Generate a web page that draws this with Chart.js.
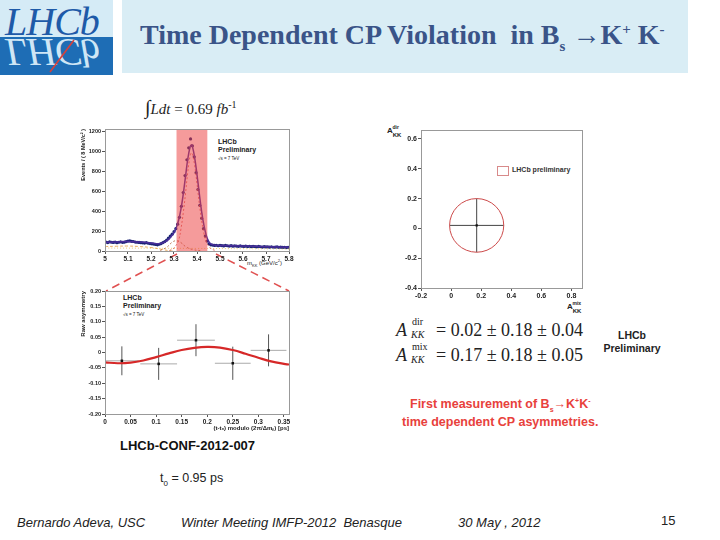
<!DOCTYPE html>
<html>
<head>
<meta charset="utf-8">
<script src="https://cdn.jsdelivr.net/npm/chart.js@4.4.1/dist/chart.umd.min.js"></script>
<style>
  body { margin: 0; width: 720px; height: 540px; background: #fff; position: relative; overflow: hidden;
         font-family: "Liberation Sans", Arial, sans-serif; color: #222; }
  .abs { position: absolute; white-space: nowrap; }
  canvas { position: absolute; }
  .serif { font-family: "Liberation Serif", "Times New Roman", serif; }
  .tiny { font-size: 7px; font-weight: bold; line-height: 8px; }
  .red { color: #e8413c; font-weight: bold; font-size: 12.5px; }
  .foot { font-style: italic; font-size: 13px; top: 515px; }
</style>
</head>
<body>
<!-- header -->
<div class="abs" style="left:0;top:0;width:113px;height:37px;background:#d5ebf6"></div>
<div class="abs" style="left:0;top:37px;width:113px;height:38px;background:#1e6db5"></div>
<div class="abs serif" style="left:5px;top:-2px;font-size:40px;font-style:italic;color:#1e5aa8;letter-spacing:-1px">LHCb</div>
<div class="abs serif" style="left:5px;top:29px;font-size:40px;font-style:italic;color:#cfe6f5;letter-spacing:-1px;transform:scaleY(-1)">LHCb</div>
<svg class="abs" style="left:0;top:0" width="113" height="75"><line x1="50" y1="72" x2="74" y2="40" stroke="#d9403a" stroke-width="1.5"/></svg>
<div class="abs" style="left:122px;top:0;width:566px;height:73px;background:#d9edf5"></div>
<div class="abs serif" style="left:140px;top:19px;font-size:28px;font-weight:bold;color:#3a5488">Time Dependent CP Violation&nbsp; in B<sub style="font-size:15px">s</sub> →K<sup style="font-size:15px">+</sup> K<sup style="font-size:15px">-</sup></div>

<!-- left column texts -->
<div class="abs serif" style="left:145px;top:96px;font-size:15px"><span style="font-size:20px">∫</span><i>Ldt</i> = 0.69 <i>fb</i><sup style="font-size:10px">-1</sup></div>
<div class="abs tiny" style="left:218px;top:138px">LHCb<br>Preliminary<br><span style="font-size:4.5px;font-weight:normal">√s = 7 TeV</span></div>
<div class="abs" style="left:247px;top:258px;font-size:6px">m<sub style="font-size:4px">KK</sub> (GeV/c<sup style="font-size:4px">2</sup>)</div>
<div class="abs tiny" style="left:123px;top:294px">LHCb<br>Preliminary<br><span style="font-size:4.5px;font-weight:normal">√s = 7 TeV</span></div>
<div class="abs" style="left:120px;top:438px;font-size:13px;font-weight:bold;color:#111">LHCb-CONF-2012-007</div>
<svg class="abs" style="left:0;top:0" width="720" height="540">
  <line x1="177" y1="254" x2="106" y2="291" stroke="#e05050" stroke-width="1.5" stroke-dasharray="8,5"/>
  <line x1="216" y1="254" x2="289" y2="291" stroke="#e05050" stroke-width="1.5" stroke-dasharray="8,5"/>
</svg>

<!-- right column texts -->
<div class="abs" style="left:387px;top:126px;font-size:8px;font-weight:bold">A<span style="position:relative;top:4px;font-size:6px">KK</span><span style="position:relative;left:-9px;top:-4px;font-size:5px">dir</span></div>
<div class="abs" style="left:567px;top:302px;font-size:8px;font-weight:bold">A<span style="position:relative;top:4px;font-size:6px">KK</span><span style="position:relative;left:-9px;top:-4px;font-size:5px">mix</span></div>
<div class="abs" style="left:497px;top:166px;width:10px;height:8px;border:1px solid #d88a8a"></div>
<div class="abs" style="left:512px;top:166px;font-size:7px;font-weight:bold;color:#333">LHCb preliminary</div>

<div class="abs serif" style="left:396px;top:320px;font-size:18px;font-style:italic">A</div>
<div class="abs serif" style="left:412px;top:316px;font-size:10px">dir</div>
<div class="abs serif" style="left:411px;top:329px;font-size:10px;font-style:italic">KK</div>
<div class="abs serif" style="left:436px;top:320px;font-size:18px">= 0.02 ± 0.18 ± 0.04</div>
<div class="abs serif" style="left:396px;top:345px;font-size:18px;font-style:italic">A</div>
<div class="abs serif" style="left:412px;top:341px;font-size:10px">mix</div>
<div class="abs serif" style="left:411px;top:354px;font-size:10px;font-style:italic">KK</div>
<div class="abs serif" style="left:436px;top:345px;font-size:18px">= 0.17 ± 0.18 ± 0.05</div>

<div class="abs" style="left:601px;top:329px;width:62px;text-align:center;font-size:10.5px;font-weight:bold;line-height:13px;color:#222">LHCb<br>Preliminary</div>
<div class="abs red" style="left:410px;top:397px">First measurement of B<sub style="font-size:7px">s</sub>→K<sup style="font-size:7px">+</sup>K<sup style="font-size:7px">-</sup></div>
<div class="abs red" style="left:402px;top:415px">time dependent CP asymmetries.</div>

<div class="abs" style="left:160px;top:471px;font-size:12.5px">t<sub style="font-size:8px">0</sub> = 0.95 ps</div>
<div class="abs foot" style="left:17px">Bernardo Adeva, USC</div>
<div class="abs foot" style="left:181px">Winter Meeting IMFP-2012&nbsp; Benasque</div>
<div class="abs foot" style="left:458px">30 May , 2012</div>
<div class="abs" style="left:661px;top:513px;font-size:13px">15</div>

<canvas id="massChart" width="225" height="152" style="left:80px;top:120px"></canvas>
<canvas id="asymChart" width="225" height="149" style="left:80px;top:283px"></canvas>
<canvas id="cpChart" width="215" height="190" style="left:380px;top:120px"></canvas>

<script>
// ---- mass spectrum (8 MeV bins from 5.0 GeV) ----
const massCounts = [
  90, 85, 92, 88, 86, 90, 84, 88, 93, 87, 89, 95, 100,
  102, 98, 96, 90, 88, 86, 84, 82, 80, 84, 78, 75, 72,
  70, 66, 62, 68, 75, 85,
  95, 110, 130, 150, 170, 195, 225, 270, 340, 450, 590, 760, 920, 1040, 1130,
  1060, 950, 790, 620, 460, 330, 225, 150, 100, 72, 62,
  60, 56, 58, 53, 57, 55, 51, 56, 53, 50, 54, 49, 52, 50, 47, 51, 48, 46, 50, 45,
  48, 44, 47, 45, 42, 46, 43, 40, 44, 41, 42, 39, 43, 38, 40, 41, 37, 39, 36, 38, 35, 37
];
const massCenters = massCounts.map((_, i) => 5.004 + i * 0.008);
const fitMass = [5.0, 5.05, 5.1, 5.15, 5.2, 5.22, 5.24, 5.26, 5.28, 5.30, 5.31, 5.32, 5.33, 5.34, 5.35, 5.36,
                 5.37, 5.375, 5.38, 5.39, 5.40, 5.41, 5.42, 5.43, 5.44, 5.45, 5.46, 5.48, 5.5, 5.6, 5.7, 5.8];
const fitTotal = [88, 90, 95, 90, 80, 74, 76, 90, 125, 185, 235, 310, 420, 570, 750, 930,
                  1050, 1070, 1055, 940, 770, 580, 400, 260, 160, 100, 72, 58, 55, 50, 44, 38];
const sigMass = [5.28, 5.30, 5.32, 5.33, 5.34, 5.35, 5.36, 5.37, 5.375, 5.38, 5.39, 5.40, 5.41, 5.42, 5.43, 5.44, 5.46, 5.48];
const sigCounts = [5, 30, 110, 220, 380, 580, 800, 960, 990, 975, 860, 680, 480, 310, 180, 95, 25, 5];
const kpiMass = [5.24, 5.27, 5.29, 5.31, 5.33, 5.35, 5.38, 5.42];
const kpiCounts = [5, 40, 85, 105, 85, 45, 15, 3];
const partMass = [5.0, 5.05, 5.1, 5.15, 5.2, 5.25, 5.28, 5.3];
const partCounts = [45, 48, 50, 45, 35, 15, 3, 0];
const combMass = [5.0, 5.2, 5.4, 5.6, 5.8];
const combCounts = [30, 28, 26, 23, 20];
const signalWindow = [5.31, 5.446];
const massTicksY = [0, 200, 400, 600, 800, 1000, 1200];
const massTicksX = [5.0, 5.1, 5.2, 5.3, 5.4, 5.5, 5.6, 5.7, 5.8];

// ---- raw asymmetry vs decay time modulo oscillation period ----
const asymT = [0.033, 0.105, 0.178, 0.250, 0.320];
const asymTErr = [0.033, 0.036, 0.037, 0.035, 0.035];
const asymVal = [-0.027, -0.037, 0.040, -0.035, 0.007];
const asymErr = [0.047, 0.052, 0.052, 0.054, 0.052];
const asymFitT = [0, 0.025, 0.05, 0.075, 0.1, 0.125, 0.15, 0.175, 0.2, 0.225, 0.25, 0.275, 0.3, 0.325, 0.35, 0.36];
const asymFit = [-0.032, -0.035, -0.033, -0.026, -0.015, -0.003, 0.008, 0.015, 0.018, 0.016, 0.008, -0.004, -0.017, -0.029, -0.037, -0.039];
const asymTicksY = [-0.2, -0.15, -0.1, -0.05, 0, 0.05, 0.1, 0.15, 0.2];
const asymTicksX = [0, 0.05, 0.1, 0.15, 0.2, 0.25, 0.3, 0.35];

// ---- A_dir vs A_mix ----
const aMix = [0.17];
const aMixErr = [0.18];
const aDir = [0.02];
const aDirErr = [0.18];
const cpTicksX = [-0.2, 0, 0.2, 0.4, 0.6, 0.8];
const cpTicksY = [-0.4, -0.2, 0, 0.2, 0.4, 0.6];

Chart.defaults.font.family = "'Liberation Sans', Arial, sans-serif";
Chart.defaults.color = '#222';
Chart.defaults.animation = false;

const fmt = v => (v === 0 ? '0' : String(v));

function axis(ticks, min, max, size, isY, fontSize, format) {
  return {
    type: 'linear', min, max,
    afterBuildTicks: s => { s.ticks = ticks.map(v => ({ value: v })); },
    afterFit: s => {
      if (isY) s.width = size; else s.height = size;
      s.paddingTop = s.paddingBottom = s.paddingLeft = s.paddingRight = 0;
    },
    grid: { drawOnChartArea: false, tickLength: 3, color: '#555' },
    border: { color: '#777' },
    ticks: { autoSkip: false, maxRotation: 0, padding: 1, font: { size: fontSize, weight: 'bold' },
             callback: format || fmt }
  };
}

const frame = {
  id: 'frame',
  afterDraw(chart) {
    const { ctx, chartArea: a } = chart;
    ctx.save();
    ctx.strokeStyle = '#999';
    ctx.lineWidth = 1;
    ctx.strokeRect(a.left + 0.5, a.top + 0.5, a.right - a.left, a.bottom - a.top);
    ctx.restore();
  }
};

const errorBars = {
  id: 'errorBars',
  beforeDatasetsDraw(chart, args, o) {
    const { ctx, scales: { x, y } } = chart;
    ctx.save();
    ctx.lineWidth = 1;
    o.xs.forEach((xv, i) => {
      const px = x.getPixelForValue(xv), py = y.getPixelForValue(o.ys[i]);
      ctx.strokeStyle = o.xColor;
      ctx.beginPath();
      ctx.moveTo(x.getPixelForValue(xv - o.xerr[i]), py);
      ctx.lineTo(x.getPixelForValue(xv + o.xerr[i]), py);
      ctx.stroke();
      ctx.strokeStyle = o.yColor;
      ctx.beginPath();
      ctx.moveTo(px, y.getPixelForValue(o.ys[i] - o.yerr[i]));
      ctx.lineTo(px, y.getPixelForValue(o.ys[i] + o.yerr[i]));
      ctx.stroke();
    });
    ctx.restore();
  }
};

const contour = {
  id: 'contour',
  afterDatasetsDraw(chart, args, o) {
    const { ctx, scales: { x, y } } = chart;
    const cx = x.getPixelForValue(aMix[0]), cy = y.getPixelForValue(aDir[0]);
    const rx = Math.abs(x.getPixelForValue(aMix[0] + aMixErr[0]) - cx);
    const ry = Math.abs(y.getPixelForValue(aDir[0] + aDirErr[0]) - cy);
    ctx.save();
    ctx.strokeStyle = '#cc4a4a';
    ctx.lineWidth = 1;
    ctx.beginPath();
    ctx.ellipse(cx, cy, rx, ry, 0, 0, Math.PI * 2);
    ctx.stroke();
    ctx.restore();
  }
};

const pts = (xs, ys) => xs.map((v, i) => ({ x: v, y: ys[i] }));

// mass chart
new Chart(document.getElementById('massChart'), {
  type: 'scatter',
  data: {
    datasets: [
      { type: 'line', data: [{ x: signalWindow[0], y: 1230 }, { x: signalWindow[1], y: 1230 }],
        fill: 'origin', backgroundColor: 'rgba(236,64,64,0.52)', borderWidth: 0, pointRadius: 0, order: 0 },
      { type: 'line', data: pts(fitMass, fitTotal), borderColor: '#4b2f9a', borderWidth: 1.5,
        pointRadius: 0, tension: 0.4, order: 1 },
      { type: 'line', data: pts(sigMass, sigCounts), borderColor: '#d9534f', borderWidth: 0.8,
        borderDash: [2, 2], pointRadius: 0, tension: 0.4, order: 2 },
      { type: 'line', data: pts(kpiMass, kpiCounts), borderColor: '#b0603a', borderWidth: 0.8,
        borderDash: [2, 2], pointRadius: 0, tension: 0.4, order: 2 },
      { type: 'line', data: pts(partMass, partCounts), borderColor: '#e39a3c', borderWidth: 0.8,
        borderDash: [3, 2], pointRadius: 0, tension: 0.4, order: 2 },
      { type: 'line', data: pts(combMass, combCounts), borderColor: '#e8c050', borderWidth: 0.8,
        borderDash: [1, 2], pointRadius: 0, tension: 0.4, order: 2 },
      { data: pts(massCenters, massCounts), backgroundColor: '#1a2373', borderWidth: 0,
        pointRadius: 1.6, order: 3 }
    ]
  },
  options: {
    responsive: false, devicePixelRatio: 1,
    layout: { padding: { top: 9, right: 16, left: 0, bottom: 0 } },
    plugins: { legend: { display: false }, tooltip: { enabled: false } },
    scales: {
      x: axis(massTicksX, 5.0, 5.8, 21, false, 6.5, v => (v === 5 ? '5' : v.toFixed(1))),
      y: Object.assign(axis(massTicksY, 0, 1230, 25, true, 5.5), {
        title: { display: true, text: 'Events / ( 8 MeV/c² )', align: 'end', padding: 0,
                 font: { size: 5.5, weight: 'bold' } }
      })
    }
  },
  plugins: [frame]
});

// asymmetry chart
new Chart(document.getElementById('asymChart'), {
  type: 'scatter',
  data: {
    datasets: [
      { type: 'line', data: pts(asymFitT, asymFit), borderColor: '#d62828', borderWidth: 2.2,
        pointRadius: 0, tension: 0.4, order: 1 },
      { data: pts(asymT, asymVal), backgroundColor: '#111', borderWidth: 0, pointStyle: 'rect',
        pointRadius: 1.8, order: 0 }
    ]
  },
  options: {
    responsive: false, devicePixelRatio: 1,
    layout: { padding: { top: 8, right: 16, left: 0, bottom: 0 } },
    plugins: {
      legend: { display: false }, tooltip: { enabled: false },
      errorBars: { xs: asymT, ys: asymVal, xerr: asymTErr, yerr: asymErr, xColor: '#aaa', yColor: '#555' }
    },
    scales: {
      x: Object.assign(axis(asymTicksX, 0, 0.36, 18, false, 6.5), {
        title: { display: true, text: '(t-t₀) modulo (2π/Δmₛ) [ps]', align: 'end', padding: 0,
                 font: { size: 6, weight: 'bold' } }
      }),
      y: Object.assign(axis(asymTicksY, -0.2, 0.2, 25, true, 5.5,
                         v => (v === 0 ? '0' : v.toFixed(2))), {
        title: { display: true, text: 'Raw asymmetry', align: 'end', padding: 0,
                 font: { size: 6, weight: 'bold' } }
      })
    }
  },
  plugins: [frame, errorBars]
});

// A_dir vs A_mix
new Chart(document.getElementById('cpChart'), {
  type: 'scatter',
  data: {
    datasets: [
      { data: pts(aMix, aDir), backgroundColor: '#111', borderWidth: 0, pointStyle: 'rect', pointRadius: 1.6 }
    ]
  },
  options: {
    responsive: false, devicePixelRatio: 1,
    layout: { padding: { top: 10, right: 13, left: 0, bottom: 0 } },
    plugins: {
      legend: { display: false }, tooltip: { enabled: false },
      errorBars: { xs: aMix, ys: aDir, xerr: aMixErr, yerr: aDirErr, xColor: '#444', yColor: '#444' }
    },
    scales: {
      x: axis(cpTicksX, -0.2, 0.87, 22, false, 7),
      y: axis(cpTicksY, -0.4, 0.66, 41, true, 7)
    }
  },
  plugins: [frame, errorBars, contour]
});
</script>
</body>
</html>
